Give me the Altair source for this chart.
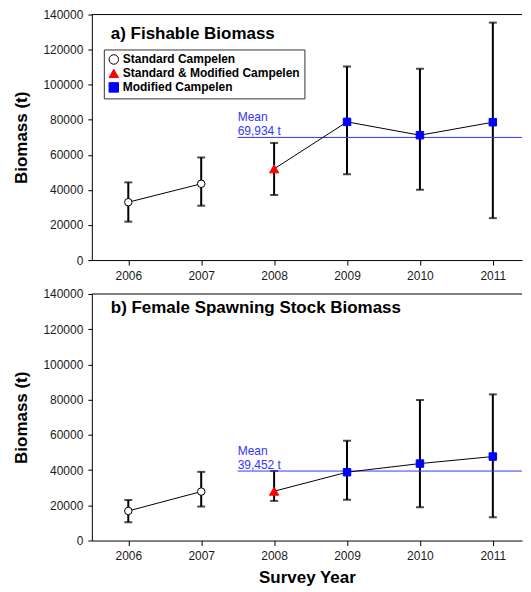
import altair as alt
import pandas as pd

# ---------------- data ----------------
years = [2006, 2007, 2008, 2009, 2010, 2011]
gear = ["Standard Campelen", "Standard Campelen", "Standard & Modified Campelen",
        "Modified Campelen", "Modified Campelen", "Modified Campelen"]
segment = ["A", "A", "B", "B", "B", "B"]

fish_title = "a) Fishable Biomass"
fish_mean = [33000, 43500, 52000, 78800, 71200, 78600]
fish_low = [21900, 31000, 37100, 49000, 40100, 23900]
fish_high = [44300, 58500, 66800, 110400, 109100, 135400]
fish_overall = 69934

ssb_title = "b) Female Spawning Stock Biomass"
ssb_mean = [16800, 27800, 28000, 38800, 43700, 47700]
ssb_low = [10400, 19300, 22500, 23100, 18900, 13200]
ssb_high = [23000, 39000, 39500, 56700, 79800, 83000]
ssb_overall = 39452

y_ticks = [0, 20000, 40000, 60000, 80000, 100000, 120000, 140000]
gear_order = ["Standard Campelen", "Standard & Modified Campelen", "Modified Campelen"]
fill_range = ["white", "#ff0000", "#0000ff"]
stroke_range = ["black", "#ff0000", "#0000ff"]
shape_range = ["circle", "triangle-up", "square"]

FONT = "Liberation Sans"
MEAN_COLOR = "#3535ff"
W = 431
XDOM = [2005.5, 2011.4]
YMAX = 140000
MEAN_START = 2007.5


def panel(title, mean, low, high, overall, height, title_y, show_legend, show_xtitle):
    df = pd.DataFrame({"year": years, "gear": gear, "segment": segment,
                       "mean": mean, "low": low, "high": high})
    xscale = alt.Scale(domain=XDOM, nice=False, zero=False)
    yscale = alt.Scale(domain=[0, YMAX], nice=False)
    xaxis = alt.Axis(values=years, format="d", grid=False, labelOverlap=False)
    yaxis = alt.Axis(values=y_ticks, format="d", grid=False, labelOverlap=False)
    xtitle = "Survey Year" if show_xtitle else None
    ytitle = "Biomass (t)"

    def X(f):
        return alt.X(f, scale=xscale, axis=xaxis, title=xtitle)

    def Y(f):
        return alt.Y(f, scale=yscale, axis=yaxis, title=ytitle)

    base = alt.Chart(df)

    # reference lines: top frame edge and the mean line
    rdf = pd.DataFrame({"x0": [XDOM[0], MEAN_START], "x1": [XDOM[1], XDOM[1]],
                        "y": [YMAX, overall], "kind": ["frame", "mean"]})
    frame = alt.Chart(rdf).transform_filter(alt.datum.kind == "frame").mark_rule(
        color="black", strokeWidth=1).encode(x=X("x0:Q"), x2="x1:Q", y=Y("y:Q"))
    mean_rule = alt.Chart(rdf).transform_filter(alt.datum.kind == "mean").mark_rule(
        color=MEAN_COLOR, strokeWidth=1).encode(x=X("x0:Q"), x2="x1:Q", y=Y("y:Q"))

    bars = base.mark_rule(color="black", strokeWidth=2).encode(
        x=X("year:Q"), y=Y("low:Q"), y2="high:Q")
    cap_lo = base.mark_tick(color="black", orient="horizontal", size=8, thickness=2).encode(
        x=X("year:Q"), y=Y("low:Q"))
    cap_hi = base.mark_tick(color="black", orient="horizontal", size=8, thickness=2).encode(
        x=X("year:Q"), y=Y("high:Q"))

    line = base.mark_line(color="black", strokeWidth=1).encode(
        x=X("year:Q"), y=Y("mean:Q"), detail="segment:N")

    mdf = pd.DataFrame({"x": [MEAN_START], "y": [overall],
                        "t1": ["Mean"], "t2": [f"{overall:,} t"]})
    mtxt = alt.Chart(mdf)
    mean_t1 = mtxt.mark_text(align="left", baseline="middle", dy=-20, font=FONT,
                             fontSize=12, color=MEAN_COLOR).encode(
        x=X("x:Q"), y=Y("y:Q"), text="t1:N")
    mean_t2 = mtxt.mark_text(align="left", baseline="middle", dy=-6, font=FONT,
                             fontSize=12, color=MEAN_COLOR).encode(
        x=X("x:Q"), y=Y("y:Q"), text="t2:N")

    if show_legend:
        leg = alt.Legend(title=None, orient="none", legendX=12, legendY=35,
                         strokeColor="#333", fillColor="white", padding=4,
                         labelFont=FONT, labelFontSize=12, labelFontWeight="bold",
                         labelColor="black", labelLimit=400, labelOffset=3,
                         symbolSize=90, symbolStrokeWidth=1, rowPadding=0,
                         cornerRadius=0)
    else:
        leg = None
    sfill = alt.Scale(domain=gear_order, range=fill_range)
    sstroke = alt.Scale(domain=gear_order, range=stroke_range)
    sshape = alt.Scale(domain=gear_order, range=shape_range)
    points = base.mark_point(opacity=1, strokeWidth=1).encode(
        x=X("year:Q"), y=Y("mean:Q"),
        fill=alt.Fill("gear:N", scale=sfill, legend=leg, sort=gear_order),
        stroke=alt.Stroke("gear:N", scale=sstroke, legend=leg, sort=gear_order),
        shape=alt.Shape("gear:N", scale=sshape, legend=leg, sort=gear_order),
        size=alt.condition(alt.datum.gear == "Standard & Modified Campelen",
                           alt.value(85), alt.value(56)),
    )

    tdf = pd.DataFrame({"t": [title]})
    ttl = alt.Chart(tdf).mark_text(align="left", baseline="middle", font=FONT,
                                   fontSize=17, fontWeight="bold", color="black").encode(
        x=alt.value(19), y=alt.value(title_y), text="t:N")

    return alt.layer(bars, cap_lo, cap_hi, frame, mean_rule, line, mean_t1, mean_t2,
                     points, ttl).properties(width=W, height=height)


top = panel(fish_title, fish_mean, fish_low, fish_high, fish_overall, 246, 19, True, False)
bot = panel(ssb_title, ssb_mean, ssb_low, ssb_high, ssb_overall, 247, 14, False, True)

chart = alt.vconcat(top, bot, spacing=7).resolve_scale(
    fill="independent", stroke="independent", shape="independent"
).resolve_legend(
    fill="independent", stroke="independent", shape="independent"
).properties(
    padding={"left": 4, "top": 0, "right": 0, "bottom": 0}
).configure_view(stroke=None).configure_axis(
    domainColor="black", tickColor="black", labelColor="#1a1a1a",
    labelFont=FONT, labelFontSize=12, titleFont=FONT, titleFontSize=17,
    titleFontWeight="bold", titleColor="black", grid=False
).configure_axisY(
    tickSize=4, labelPadding=5, titlePadding=12
).configure_axisX(
    tickSize=5, labelPadding=5, titlePadding=8
)

chart.save("out.html", embed_options={"renderer": "svg", "actions": False})
